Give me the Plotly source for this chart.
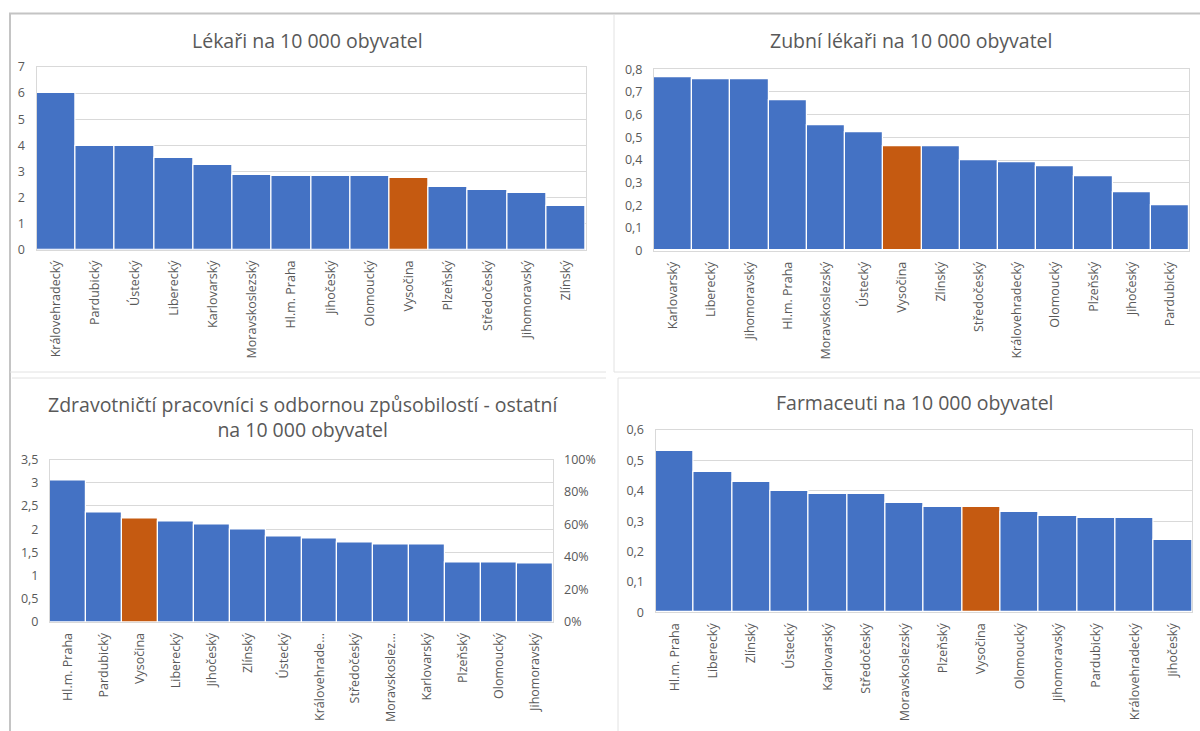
import plotly.graph_objects as go

W, H = 1200, 731

# ---------------- data ----------------
cats_lekari = ["Královehradecký", "Pardubický", "Ústecký", "Liberecký", "Karlovarský",
               "Moravskoslezský", "Hl.m. Praha", "Jihočeský", "Olomoucký", "Vysočina",
               "Plzeňský", "Středočeský", "Jihomoravský", "Zlínský"]
vals_lekari = [6.0, 3.96, 3.96, 3.52, 3.23, 2.86, 2.81, 2.81, 2.81, 2.76, 2.38, 2.29, 2.15, 1.66]

cats_zubni = ["Karlovarský", "Liberecký", "Jihomoravský", "Hl.m. Praha", "Moravskoslezský",
              "Ústecký", "Vysočina", "Zlínský", "Středočeský", "Královehradecký",
              "Olomoucký", "Plzeňský", "Jihočeský", "Pardubický"]
vals_zubni = [0.765, 0.754, 0.754, 0.663, 0.553, 0.521, 0.46, 0.46, 0.40, 0.388, 0.374, 0.329, 0.257, 0.199]

cats_ostatni = ["Hl.m. Praha", "Pardubický", "Vysočina", "Liberecký", "Jihočeský", "Zlínský",
                "Ústecký", "Královehrade...", "Středočeský", "Moravskoslez...", "Karlovarský",
                "Plzeňský", "Olomoucký", "Jihomoravský"]
vals_ostatni = [3.05, 2.36, 2.22, 2.17, 2.09, 2.0, 1.85, 1.8, 1.72, 1.68, 1.68, 1.29, 1.29, 1.26]

cats_farm = ["Hl.m. Praha", "Liberecký", "Zlínský", "Ústecký", "Karlovarský", "Středočeský",
             "Moravskoslezský", "Plzeňský", "Vysočina", "Olomoucký", "Jihomoravský",
             "Pardubický", "Královehradecký", "Jihočeský"]
vals_farm = [0.53, 0.461, 0.428, 0.40, 0.388, 0.388, 0.359, 0.347, 0.347, 0.331, 0.318, 0.309, 0.309, 0.238]

titles = ["Lékaři na 10 000 obyvatel",
          "Zubní lékaři na 10 000 obyvatel",
          "Zdravotničtí pracovníci s odbornou způsobilostí - ostatní<br>na 10 000 obyvatel",
          "Farmaceuti na 10 000 obyvatel"]
highlight = "Vysočina"

# ---------------- style ----------------
BLUE = "#4472C4"
ORANGE = "#C55A11"
TXT = "#595959"
GRID = "#d9d9d9"
FONT = "Open Sans"


def px_x(p):
    return p / W


def px_y(p):
    return 1 - p / H


# plot areas in pixels: (x0, x1, ytop, ybottom)
areas = [(36.5, 585.5, 67, 249.5),
         (654, 1189, 69.3, 250.7),
         (50, 553, 459.5, 622),
         (655.5, 1192, 430, 612.3)]
yranges = [(0, 7, 1), (0, 0.8, 0.1), (0, 3.5, 0.5), (0, 0.6, 0.1)]
title_pos = [(307, 40), (911, 40), (303, 417), (915, 402)]

series = [(cats_lekari, vals_lekari), (cats_zubni, vals_zubni),
          (cats_ostatni, vals_ostatni), (cats_farm, vals_farm)]

fig = go.Figure()
layout = dict(
    width=W, height=H, margin=dict(l=0, r=0, t=0, b=0, autoexpand=False),
    paper_bgcolor="white", plot_bgcolor="white",
    showlegend=False, bargap=0, separators=", ",
    font=dict(family=FONT, color=TXT, size=12),
)

annotations = []
for i, ((cats, vals), (x0, x1, yt, yb), (r0, r1, dt)) in enumerate(zip(series, areas, yranges)):
    n = "" if i == 0 else str(i + 1)
    fig.add_trace(go.Bar(
        x=cats, y=vals,
        xaxis="x" + n, yaxis="y" + n,
        marker=dict(color=[ORANGE if c == highlight else BLUE for c in cats],
                    line=dict(color="white", width=1.2)),
        hoverinfo="x+y",
    ))
    layout["xaxis" + n] = dict(
        domain=[px_x(x0), px_x(x1)], anchor="y" + n, automargin=False,
        tickangle=-90, showline=True, linecolor=GRID, mirror=True,
        tickfont=dict(size=12.5, color=TXT), ticks="", showgrid=False,
        ticklabelstandoff=5, fixedrange=True,
    )
    layout["yaxis" + n] = dict(
        domain=[px_y(yb), px_y(yt)], anchor="x" + n, automargin=False,
        range=[r0, r1], dtick=dt, tick0=0,
        showgrid=True, gridcolor=GRID, gridwidth=1,
        showline=True, linecolor=GRID, mirror=True, zeroline=False,
        tickfont=dict(size=12.5, color=TXT), ticks="", ticklabelstandoff=8,
        fixedrange=True,
    )
    tx, ty = title_pos[i]
    annotations.append(dict(
        text=titles[i], x=px_x(tx), y=px_y(ty), xref="paper", yref="paper",
        xanchor="center", yanchor="middle", showarrow=False,
        font=dict(family=FONT, size=19.5, color=TXT), align="center",
    ))

# secondary percentage axis for chart 3
fig.add_trace(go.Scatter(x=cats_ostatni, y=[None] * len(cats_ostatni),
                         xaxis="x3", yaxis="y5", mode="lines",
                         hoverinfo="skip", showlegend=False))
layout["yaxis5"] = dict(
    overlaying="y3", side="right", anchor="x3", range=[0, 1], dtick=0.2,
    tickformat=".0%", showgrid=False, zeroline=False, showline=False,
    tickfont=dict(size=12.5, color=TXT), ticks="", ticklabelstandoff=10,
    fixedrange=True, automargin=False,
)


# panel frame lines
def line(xa, ya, xb, yb, color, width):
    return dict(type="line", xref="paper", yref="paper",
                x0=px_x(xa), y0=px_y(ya), x1=px_x(xb), y1=px_y(yb),
                line=dict(color=color, width=width), layer="below")


FRAME = "#c4c4c4"
LIGHT = "#e2e2e2"
shapes = [
    line(9, 13.5, 1200, 13.5, FRAME, 2),
    line(10, 13, 10, 731, FRAME, 2),
    line(10, 372, 606, 372, LIGHT, 1),
    line(614, 15, 614, 372, LIGHT, 1),
    line(614, 372, 1200, 372, LIGHT, 1),
    line(12, 378, 606, 378, LIGHT, 1),
    line(618, 378, 618, 731, LIGHT, 1),
    line(618, 378, 1200, 378, LIGHT, 1),
]

layout["annotations"] = annotations
layout["shapes"] = shapes
fig.update_layout(**layout)

fig.write_html("out.html", post_script="document.body.style.margin='0';",
               config={"displayModeBar": False})
